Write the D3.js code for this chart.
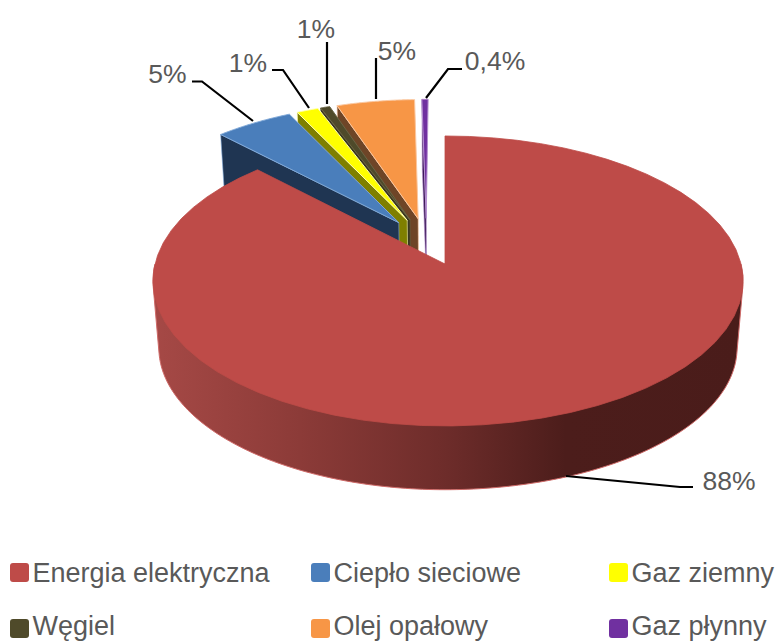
<!DOCTYPE html>
<html><head><meta charset="utf-8">
<script src="https://cdn.jsdelivr.net/npm/d3@7"></script>
<style>html,body{margin:0;padding:0;background:#fff}svg{display:block}text{font-family:"Liberation Sans",Arial,sans-serif;fill:#595959}</style>
</head><body><svg id="c" width="777" height="641"></svg>
<script>
const categories = ["Energia elektryczna","Ciepło sieciowe","Gaz ziemny","Węgiel","Olej opałowy","Gaz płynny"];
const values = [88,5,1.4,0.6,5,0.4];
const valueLabels = ["88%","5%","1%","1%","5%","0,4%"];
const colors = ["#BE4B48","#4A7EBB","#FFFF00","#4F4A2A","#F79646","#7030A0"];
const wallColors = ["#7a2f2d","#1F3552","#7F7F00","#3A3620","#6E4527","#3C1A57"];
const edgeColors = ["#d9706d","#7fa8d8","#ffffb0","#6a6545","#fbc79f","#b58fd0"];
const legendCols = [10,311,609];
const legendRows = [563,619];
const legendBaselines = [582,634.5];

const svg = d3.select("#c");
const ax=445, ay=264, k=0.117, H=143, RL=290, RR=296, explode=0.172;
const shrink=0.98, drop=67;
const P=(u,v)=>{const s=1/(1+k*v);return [ax+(u<0?RL:RR)*u*s, ay-H*v*s];};
const B=(p)=>[ax+(p[0]-ax)*shrink, ay+(p[1]-ay)*shrink+drop];

const arcs=d3.pie().sort(null).value(d=>d)(values);
const mainMid=(arcs[0].startAngle+arcs[0].endAngle)/2;
const c0=[-explode*Math.sin(mainMid),-explode*Math.cos(mainMid)];
arcs.forEach(a=>{
  const m=(a.startAngle+a.endAngle)/2;
  a.mid=m; a.o=[c0[0]+explode*Math.sin(m),c0[1]+explode*Math.cos(m)];
  a.pt=t=>P(a.o[0]+Math.sin(t),a.o[1]+Math.cos(t));
  a.apex=P(a.o[0],a.o[1]);
  a.rim=d3.range(0,61).map(i=>a.pt(a.startAngle+(a.endAngle-a.startAngle)*i/60));
});
const line=d3.line();
const closed=pts=>line(pts)+"Z";

const grad=svg.append("defs").append("linearGradient").attr("id","side")
  .attr("gradientUnits","userSpaceOnUse").attr("x1",152).attr("x2",743).attr("y1",0).attr("y2",0);
[[0,"#A64946"],[0.25,"#8C3B38"],[0.5,"#6D2C2A"],[0.7,"#4C1D1B"],[1,"#4A1C1A"]]
  .forEach(s=>grad.append("stop").attr("offset",s[0]).attr("stop-color",s[1]));

// small slices back to front, then the big slice
const order=[5,4,3,2,1];
const g=svg.append("g");
order.forEach(i=>{
  const a=arcs[i], o0=a.rim[0];
  g.append("path").attr("d",closed([a.apex,o0,B(o0),B(a.apex)])).attr("fill",wallColors[i]).attr("stroke",edgeColors[i]).attr("stroke-width",0.6);
  g.append("path").attr("d",closed([a.apex,...a.rim])).attr("fill",colors[i]).attr("stroke",edgeColors[i]).attr("stroke-width",1);
});
// big slice
const m=arcs[0];
const front=d3.range(Math.PI/2,Math.PI*1.5+0.001,Math.PI/180).map(t=>m.pt(t));
const hull=d3.polygonHull(front.concat(front.map(B)));
g.append("path").attr("d",closed(hull)).attr("fill","url(#side)").attr("stroke","#cf6a68").attr("stroke-width",1);
g.append("path").attr("d",closed([m.apex,...m.rim])).attr("fill",colors[0]).attr("stroke",colors[0]).attr("stroke-width",0.8);

// leader lines and value labels
const leaderAnchors=[[566,476],[253,121],[309,108],[327,104],[376,99],[426,98]];
const leaderPaths=[[[680,487],[693,487]],[[202,81.5],[192,81.5]],[[283,70],[272,70]],[[327,42]],[[376,58]],[[448,69],[462,69]]];
const labelPos=[[729,489.5],[167.5,82.5],[248,71.5],[316,37.5],[397,59.5],[495,69.5]];
leaderAnchors.forEach((p,i)=>{
  svg.append("path").attr("d",line([p,...leaderPaths[i]])).attr("fill","none").attr("stroke","#000").attr("stroke-width",2.2);
});
svg.selectAll(".vl").data(valueLabels).join("text").attr("class","vl")
  .attr("x",(d,i)=>labelPos[i][0]).attr("y",(d,i)=>labelPos[i][1])
  .attr("text-anchor","middle").attr("font-size",26.5).text(d=>d);

// legend
const lg=svg.selectAll(".lg").data(categories).join("g").attr("class","lg");
lg.append("rect").attr("x",(d,i)=>legendCols[i%3]).attr("y",(d,i)=>legendRows[Math.floor(i/3)])
  .attr("width",19).attr("height",19).attr("rx",3).attr("fill",(d,i)=>colors[i]);
lg.append("text").attr("x",(d,i)=>legendCols[i%3]+22.5).attr("y",(d,i)=>legendBaselines[Math.floor(i/3)])
  .attr("font-size",27).text(d=>d);
</script></body></html>
